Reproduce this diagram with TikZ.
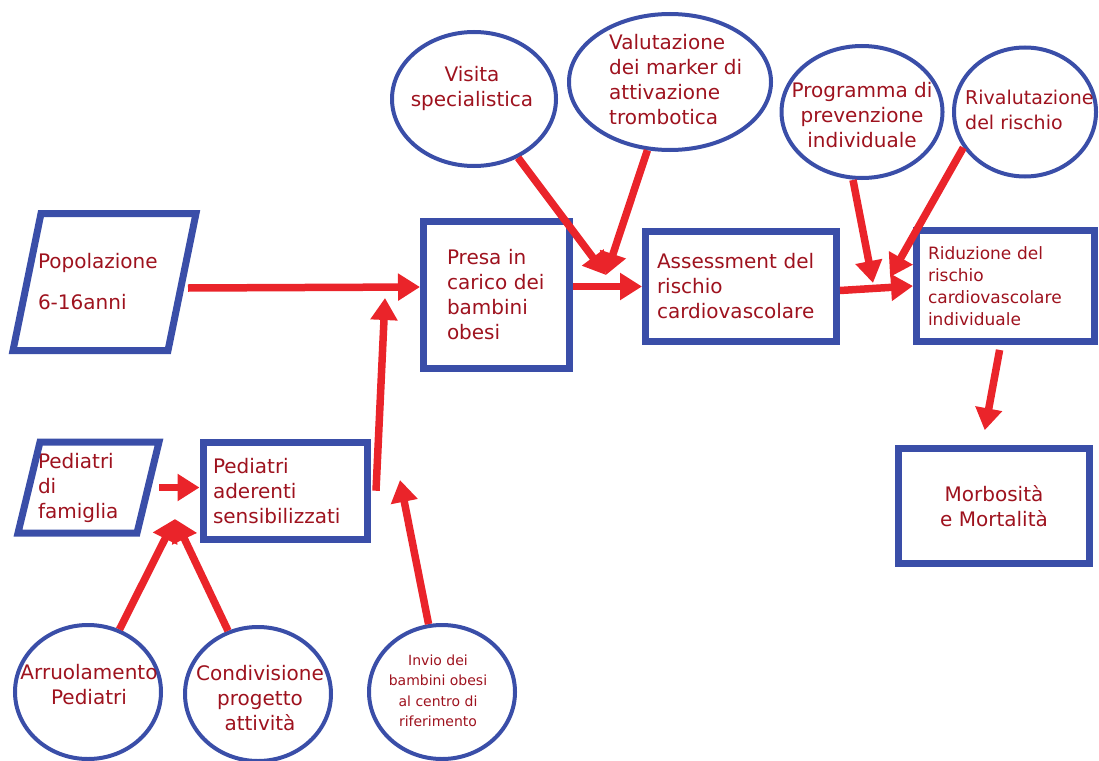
\documentclass[tikz,border=0pt]{standalone}
\usepackage{fontspec}
\setmainfont{DejaVu Sans}
\usetikzlibrary{shapes.geometric,arrows.meta}
\definecolor{bordo}{RGB}{58,78,168}
\definecolor{freccia}{RGB}{234,36,42}
\definecolor{scritta}{RGB}{158,18,30}

\begin{document}
\begin{tikzpicture}[x=1pt, y=-1pt, font=\fontsize{20}{25}\selectfont, text=scritta,
	box/.style={draw=bordo, line width=7pt, inner ysep=0pt, align=left},
	pframe/.style={inner sep=0pt, outer sep=0pt, align=left},
	par/.style={draw=bordo, line width=7pt},
	oval/.style={ellipse, draw=bordo, line width=4pt, inner sep=0pt},
	txt/.style={inner sep=0pt},
	arr/.style={draw=freccia, line width=7.5pt, -{Triangle[length=22pt,width=26pt]}}]
	\useasboundingbox (0,0) rectangle (1099,760);
	
	% riquadri
	\node[pframe, inner xsep=25pt, minimum width=183, minimum height=137, text width=133] (pop) at (104.5,282) {Popolazione\\[16pt]6-16anni};
	\draw[par] ([xshift=28pt]pop.north west) -- (pop.north east) -- ([xshift=-28pt]pop.south east) -- (pop.south west) -- cycle;
	\node[pframe, inner xsep=20pt, minimum width=141, minimum height=91, text width=101] (fam) at (88.5,487.5) {Pediatri\\di\\famiglia};
	\draw[par] ([xshift=22pt]fam.north west) -- (fam.north east) -- ([xshift=-22pt]fam.south east) -- (fam.south west) -- cycle;
	\node[box, inner xsep=10pt, minimum height=97.5, text width=144.5] (ader) at (285.25,490.75) {Pediatri\\aderenti\\sensibilizzati};
	\node[box, inner xsep=23.5pt, minimum height=147, text width=99] (presa) at (496.5,295) {Presa in\\carico dei\\bambini\\obesi};
	\node[box, inner xsep=11.5pt, minimum height=110, text width=168] (assess) at (741,286.5) {Assessment del\\rischio\\cardiovascolare};
	\node[box, font=\fontsize{17}{22}\selectfont, inner xsep=11.5pt, minimum height=111, text width=155] (ridu) at (1005.5,286) {Riduzione del\\rischio\\cardiovascolare\\individuale};
	\node[box, align=center, minimum width=191, minimum height=115] (morb) at (994,506) {Morbosità\\e Mortalità};
	
	% ovali
	\node[oval, minimum width=164, minimum height=134] (vis) at (474,99) {};
	\node[txt, align=center] (visT) at (472,88) {Visita\\specialistica};
	\node[oval, minimum width=202, minimum height=136] (val) at (670,82) {};
	\node[txt, align=left, anchor=west] (valT) at (609,80) {Valutazione\\dei marker di\\attivazione\\trombotica};
	\node[oval, minimum width=161, minimum height=132] (prog) at (862,112) {};
	\node[txt, align=center] (progT) at (862,115) {Programma di\\prevenzione\\individuale};
	\node[oval, minimum width=142, minimum height=129] (riv) at (1025,112) {};
	\node[txt, align=left, anchor=west, font=\fontsize{19}{25}\selectfont] (rivT) at (965,110) {Rivalutazione\\del rischio};
	\node[oval, minimum width=146, minimum height=134] (arru) at (88,692) {};
	\node[txt, align=center] (arruT) at (89,685) {Arruolamento\\Pediatri};
	\node[oval, minimum width=146, minimum height=134] (cond) at (258,694) {};
	\node[txt, align=center] (condT) at (260,698) {Condivisione\\progetto\\attività};
	\node[oval, minimum width=146, minimum height=134] (inv) at (442,692) {};
	\node[txt, align=center, font=\fontsize{14}{20.5}\selectfont] (invT) at (438,691) {Invio dei\\bambini obesi\\al centro di\\riferimento};
	
	\coordinate (jU) at (385,298);
	\coordinate (jI) at (400,480);
	\coordinate (jA) at (175,519);
	\coordinate (jAss) at (606,275);
	\coordinate (jP) at (873,283);
	\coordinate (jR) at (890,277);
	
	% frecce
	\draw[arr] ([shift={(-8,6)}]pop.east) -- ([yshift=8pt]presa.west);
	\draw[arr] (fam.east) -- (fam.east -| ader.west);
	\draw[arr] (arru) -- (jA);
	\draw[arr] (cond) -- (jA);
	\draw[arr] ([xshift=5pt]ader.east) -- (jU);
	\draw[arr] (inv) -- (jI);
	\draw[arr] (presa.east |- assess.west) -- (assess.west);
	\draw[arr] (vis) -- (jAss);
	\draw[arr] (val) -- (jAss);
	\draw[arr] ([yshift=-4pt]assess.east) -- (ridu.west);
	\draw[arr] ([xshift=-9pt]prog.south) -- (jP);
	\draw[arr] (riv.210) -- (jR);
	\draw[arr, shorten <=5pt, shorten >=15pt] ([xshift=-5pt]ridu.south) -- ([xshift=-12pt]morb.north);
\end{tikzpicture}
\end{document}
